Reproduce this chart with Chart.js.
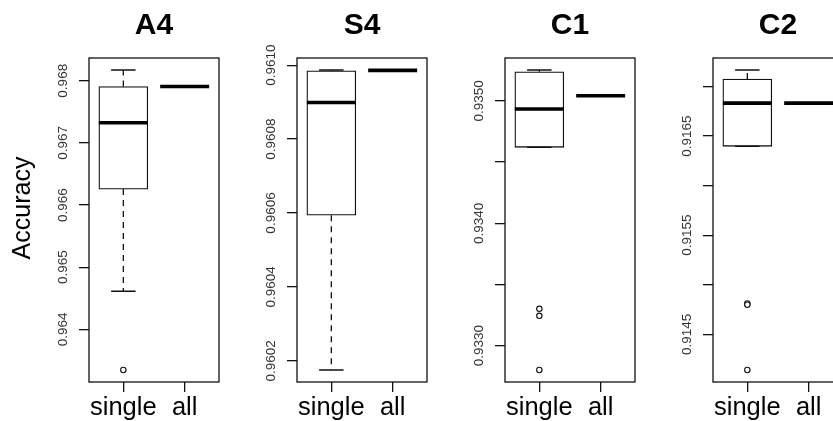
<!DOCTYPE html>
<html><head><meta charset="utf-8">
<script src="https://cdn.jsdelivr.net/npm/chart.js@4.4.1/dist/chart.umd.min.js"></script>
<style>
html,body{margin:0;padding:0;background:#fff;width:833px;height:421px;overflow:hidden;position:relative}
canvas{position:absolute;top:0}
</style></head><body>
<canvas id="p0" width="230" height="421" style="left:0px"></canvas>
<canvas id="p1" width="230" height="421" style="left:208px"></canvas>
<canvas id="p2" width="230" height="421" style="left:416px"></canvas>
<canvas id="p3" width="230" height="421" style="left:624px"></canvas>
<script>
// ---------- data ----------
const panelTitles = ['A4', 'S4', 'C1', 'C2'];
const groupLabels = ['single', 'all'];
const yAxisTitle = 'Accuracy';

// five-number summaries: [lower whisker, Q1, median, Q3, upper whisker]
const a4Single = [0.964612, 0.966256, 0.967325, 0.967908, 0.968173];
const a4Outliers = [0.963345];
const a4All = 0.967908;
const a4Ticks = [0.964, 0.965, 0.966, 0.967, 0.968];
const a4TickLabels = ['0.964', '0.965', '0.966', '0.967', '0.968'];

const s4Single = [0.960175, 0.960594, 0.960899, 0.960985, 0.960987];
const s4Outliers = [];
const s4All = 0.960986;
const s4Ticks = [0.9602, 0.9604, 0.9606, 0.9608, 0.9610];
const s4TickLabels = ['0.9602', '0.9604', '0.9606', '0.9608', '0.9610'];

const c1Single = [0.934621, 0.934621, 0.934934, 0.935238, 0.935253];
const c1Outliers = [0.933301, 0.933244, 0.932801];
const c1All = 0.935043;
const c1Ticks = [0.9330, 0.9335, 0.9340, 0.9345, 0.9350];
const c1TickLabels = ['0.9330', '', '0.9340', '', '0.9350'];

const c2Single = [0.916396, 0.916396, 0.916832, 0.917075, 0.917166];
const c2Outliers = [0.914812, 0.914798, 0.914140];
const c2All = 0.916832;
const c2Ticks = [0.9145, 0.9150, 0.9155, 0.9160, 0.9165, 0.9170];
const c2TickLabels = ['0.9145', '', '0.9155', '', '0.9165', ''];

// ---------- chart ----------
const FONT = '"Liberation Sans", Arial, Helvetica, sans-serif';

const boxPlugin = {
  id: 'boxDetails',
  afterDatasetsDraw(chart, args, opts) {
    const {ctx} = chart;
    const xs = chart.scales.x, ys = chart.scales.y;
    const meta = chart.getDatasetMeta(0);
    opts.groups.forEach((g, i) => {
      const el = meta.data[i];
      const cx = xs.getPixelForValue(g.x);
      const half = el.width / 2;
      const [lo, q1, med, q3, hi] = g.stats.map(v => ys.getPixelForValue(v));
      ctx.save();
      ctx.strokeStyle = '#111';
      ctx.lineWidth = 1.3;
      ctx.setLineDash([6, 5]);
      ctx.beginPath();
      if (q3 - hi > 0.5) { ctx.moveTo(cx, q3); ctx.lineTo(cx, hi); }
      if (lo - q1 > 0.5) { ctx.moveTo(cx, q1); ctx.lineTo(cx, lo); }
      ctx.stroke();
      ctx.setLineDash([]);
      ctx.beginPath();
      ctx.moveTo(cx - half / 2, hi); ctx.lineTo(cx + half / 2, hi);
      ctx.moveTo(cx - half / 2, lo); ctx.lineTo(cx + half / 2, lo);
      ctx.stroke();
      ctx.lineWidth = 3.6;
      ctx.strokeStyle = '#000';
      ctx.beginPath();
      ctx.moveTo(cx - half, med); ctx.lineTo(cx + half, med);
      ctx.stroke();
      ctx.restore();
    });
  },
  afterDraw(chart, args, opts) {
    const {ctx, chartArea: ca} = chart;
    const ys = chart.scales.y;
    ctx.save();
    // frame
    ctx.strokeStyle = '#111';
    ctx.lineWidth = 1.3;
    ctx.strokeRect(ca.left, ca.top, ca.right - ca.left, ca.bottom - ca.top);
    // rotated y tick labels
    ctx.fillStyle = '#333';
    ctx.font = '13.5px ' + FONT;
    ctx.textAlign = 'center';
    ctx.textBaseline = 'alphabetic';
    ys.ticks.forEach((t, i) => {
      const lab = opts.tickLabels[i];
      if (!lab) return;
      const y = ys.getPixelForValue(t.value);
      ctx.save();
      ctx.translate(ca.left - 27 + 4.8, y);
      ctx.rotate(-Math.PI / 2);
      ctx.fillText(lab, 0, 0);
      ctx.restore();
    });
    // panel title
    ctx.fillStyle = '#000';
    ctx.font = 'bold 30px ' + FONT;
    ctx.fillText(opts.title, (ca.left + ca.right) / 2, 34);
    // y axis title
    if (opts.yTitle) {
      ctx.font = '25px ' + FONT;
      ctx.save();
      ctx.translate(29.5, 208);
      ctx.rotate(-Math.PI / 2);
      ctx.fillText(opts.yTitle, 0, 0);
      ctx.restore();
    }
    ctx.restore();
  }
};

function makePanel(id, title, single, outliers, allVal, ticks, tickLabels, yTitle) {
  const allStats = [allVal, allVal, allVal, allVal, allVal];
  const values = single.concat(outliers, [allVal]);
  const lo = Math.min(...values), hi = Math.max(...values);
  const pad = 0.04 * (hi - lo);
  new Chart(document.getElementById(id), {
    type: 'bar',
    data: {
      datasets: [
        {
          type: 'bar',
          data: [{x: 1, y: [single[1], single[3]]}, {x: 2, y: [allVal, allVal]}],
          backgroundColor: '#fff',
          borderColor: '#111',
          borderWidth: 1.3,
          borderSkipped: false,
          barThickness: 49
        },
        {
          type: 'scatter',
          data: outliers.map(v => ({x: 1, y: v})),
          pointRadius: 2.7,
          pointBorderWidth: 1.1,
          pointBackgroundColor: '#fff',
          pointBorderColor: '#111'
        }
      ]
    },
    options: {
      responsive: false,
      animation: false,
      events: [],
      layout: {padding: {left: 0, right: 11, top: 58, bottom: 0}},
      plugins: {
        legend: {display: false},
        title: {display: false},
        tooltip: {enabled: false},
        boxDetails: {
          groups: [{x: 1, stats: single}, {x: 2, stats: allStats}],
          tickLabels, title, yTitle
        }
      },
      scales: {
        x: {
          type: 'linear',
          offset: false,
          min: 0.44, max: 2.56,
          afterBuildTicks: s => { s.ticks = [{value: 1}, {value: 2}]; },
          afterFit: s => { s.height = 39; },
          grid: {offset: false, drawOnChartArea: false, drawTicks: true, tickLength: 10, color: '#111', lineWidth: 1.3},
          border: {display: false},
          ticks: {
            callback: v => groupLabels[v - 1],
            font: {size: 25.5, family: FONT},
            color: '#000',
            padding: 1,
            maxRotation: 0, minRotation: 0, autoSkip: false
          }
        },
        y: {
          type: 'linear',
          min: lo - pad, max: hi + pad,
          afterBuildTicks: s => { s.ticks = ticks.map(v => ({value: v})); },
          afterFit: s => { s.width = 89; },
          grid: {drawOnChartArea: false, drawTicks: true, tickLength: 10, color: '#111', lineWidth: 1.3},
          border: {display: false},
          ticks: {display: false}
        }
      }
    },
    plugins: [boxPlugin]
  });
}

makePanel('p0', panelTitles[0], a4Single, a4Outliers, a4All, a4Ticks, a4TickLabels, yAxisTitle);
makePanel('p1', panelTitles[1], s4Single, s4Outliers, s4All, s4Ticks, s4TickLabels, null);
makePanel('p2', panelTitles[2], c1Single, c1Outliers, c1All, c1Ticks, c1TickLabels, null);
makePanel('p3', panelTitles[3], c2Single, c2Outliers, c2All, c2Ticks, c2TickLabels, null);
</script>
</body></html>
